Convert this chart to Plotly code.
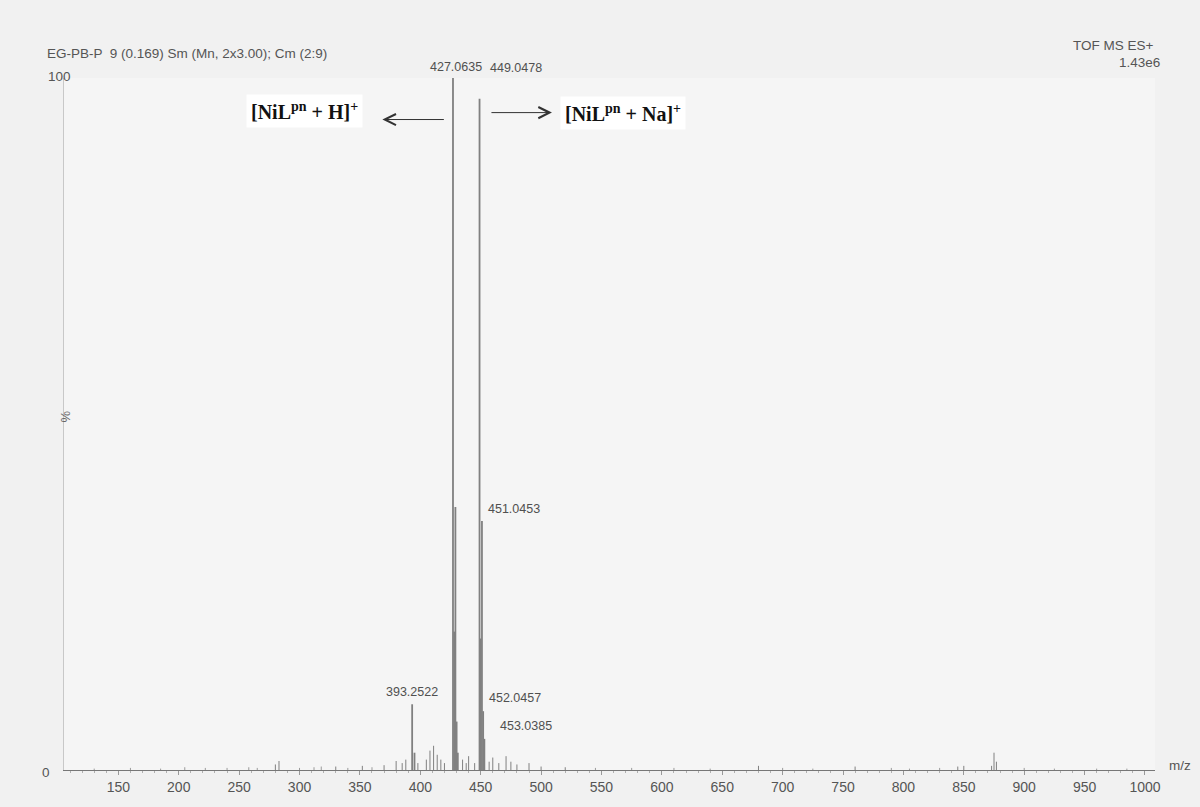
import plotly.graph_objects as go

# ---- data ----
peak_mz = [393.2522, 395.2, 427.0635, 428.07, 429.06, 430.06, 431.06,
           449.0478, 450.05, 451.0453, 452.0457, 453.0385]
peak_pct = [9.5, 2.5, 100, 20, 38, 7, 2.5,
            97, 19, 36, 8.5, 4.5]

minor_mz = [280, 283, 330, 352, 370, 380, 385, 388, 398, 405, 408, 411, 414, 417, 420,
            435, 438, 440, 445, 457, 460, 465, 471, 475, 480, 490, 500, 520,
            680, 760, 845, 850, 873, 875, 877]
minor_pct = [0.8, 1.3, 0.5, 0.6, 0.7, 1.3, 1.0, 1.5, 1.0, 1.5, 2.8, 3.5, 2.2, 1.5, 1.0,
             1.5, 1.0, 2.0, 1.0, 1.2, 1.8, 1.0, 2.0, 1.2, 0.8, 1.0, 0.5, 0.4,
             0.6, 0.5, 0.5, 0.6, 0.6, 2.5, 1.2]

noise_mz = [130, 160, 185, 205, 222, 240, 258, 265, 300, 312, 318, 340, 360, 545, 575,
            610, 640, 700, 725, 790, 805, 830, 900, 925, 960, 985]
noise_pct = [0.2, 0.3, 0.2, 0.4, 0.3, 0.3, 0.4, 0.3, 0.3, 0.4, 0.5, 0.3, 0.4, 0.3, 0.3,
             0.3, 0.2, 0.3, 0.2, 0.3, 0.2, 0.3, 0.3, 0.2, 0.2, 0.2]

labelled = ["393.2522", "427.0635", "449.0478", "451.0453", "452.0457", "453.0385"]

x_ticks = [150, 200, 250, 300, 350, 400, 450, 500, 550, 600, 650, 700, 750, 800, 850, 900, 950, 1000]

title_left = "EG-PB-P  9 (0.169) Sm (Mn, 2x3.00); Cm (2:9)"
title_right1 = "TOF MS ES+"
title_right2 = "1.43e6"


def sticks(mz, pct):
    xs, ys = [], []
    for m, p in zip(mz, pct):
        xs += [m, m, None]
        ys += [0, p, None]
    return xs, ys


fig = go.Figure()
for mz, pct, col, w in [(noise_mz, noise_pct, "#9a9a9a", 1),
                        (minor_mz, minor_pct, "#808080", 1),
                        (peak_mz, peak_pct, "#808080", 1.8)]:
    xs, ys = sticks(mz, pct)
    fig.add_trace(go.Scatter(x=xs, y=ys, mode="lines",
                             line=dict(color=col, width=w),
                             hoverinfo="skip", showlegend=False))

lab_font = dict(family="Liberation Sans, Arial", size=12.5, color="#505050")
# peak label placement (style only)
label_pos = {
    "393.2522": dict(xanchor="center", xshift=0, yshift=3),
    "427.0635": dict(xanchor="center", xshift=3, yshift=2),
    "449.0478": dict(xanchor="left", xshift=8, yshift=22),
    "451.0453": dict(xanchor="left", xshift=4, yshift=3),
    "452.0457": dict(xanchor="left", xshift=4, yshift=4),
    "453.0385": dict(xanchor="left", xshift=14, yshift=4),
}
for m, p in zip(peak_mz, peak_pct):
    key = f"{m:.4f}"
    if key in labelled:
        pos = label_pos[key]
        fig.add_annotation(x=m, y=p, xref="x", yref="y", text=key, showarrow=False,
                           yanchor="bottom", font=lab_font, **pos)

ser = dict(family="Liberation Serif, Times New Roman", size=20, color="#111111")
fig.add_annotation(x=304, y=95.3, xref="x", yref="y",
                   text="<b>[NiL<sup>pn</sup> + H]<sup>+</sup></b>", showarrow=False,
                   bgcolor="#ffffff", borderpad=4, font=ser)
fig.add_annotation(x=568, y=95.0, xref="x", yref="y",
                   text="<b>[NiL<sup>pn</sup> + Na]<sup>+</sup></b>", showarrow=False,
                   bgcolor="#ffffff", borderpad=4, font=ser)
# arrows
fig.add_annotation(x=368.6, y=94.0, ax=63, ay=0, xref="x", yref="y", axref="pixel", ayref="pixel",
                   text="", showarrow=True, arrowhead=5, arrowsize=2.2, arrowwidth=1, arrowcolor="#333333")
fig.add_annotation(x=509, y=95.0, ax=-62, ay=0, xref="x", yref="y", axref="pixel", ayref="pixel",
                   text="", showarrow=True, arrowhead=5, arrowsize=2.2, arrowwidth=1, arrowcolor="#333333")

small = dict(family="Liberation Sans, Arial", size=13.5, color="#555555")

W, H = 1200, 807
L, R, T, B = 64, 45, 78, 35
pw, ph = W - L - R, H - T - B


def px2paper(x, y):
    return (x - L) / pw, (H - B - y) / ph


for txt, (x, y), xa in [(title_left, (45, 53), "left"),
                        (title_right1, (1156, 45), "right"),
                        (title_right2, (1162, 62), "right"),
                        ("100", (73, 76), "right"),
                        ("0", (52, 775), "right"),
                        ("m/z", (1167, 767), "left")]:
    px, py = px2paper(x, y)
    fig.add_annotation(x=px, y=py, xref="paper", yref="paper", text=txt, showarrow=False,
                       xanchor=xa, yanchor="middle", font=small)
px, py = px2paper(56, 418)
fig.add_annotation(x=px, y=py, xref="paper", yref="paper", text="%", showarrow=False,
                   textangle=-90, font=dict(family="Liberation Sans, Arial", size=13, color="#666666"))

fig.update_xaxes(range=[105, 1008.3], tickvals=x_ticks, ticktext=[str(t) for t in x_ticks],
                 showgrid=False, zeroline=False, showline=True, linecolor="#777777", linewidth=1,
                 ticks="outside", ticklen=4, tickcolor="#999999",
                 minor=dict(ticks="outside", ticklen=2, dtick=10, tickcolor="#b0b0b0"),
                 tickfont=dict(family="Liberation Sans, Arial", size=14, color="#555555"))
fig.update_yaxes(range=[0, 100], showticklabels=False, showgrid=False, zeroline=False,
                 showline=True, linecolor="#c8c8c8", linewidth=1, ticks="")

fig.update_layout(width=W, height=H, margin=dict(l=L, r=R, t=T, b=B),
                  paper_bgcolor="#f1f1f1", plot_bgcolor="#f5f5f5", showlegend=False)

fig.write_html("out.html")
